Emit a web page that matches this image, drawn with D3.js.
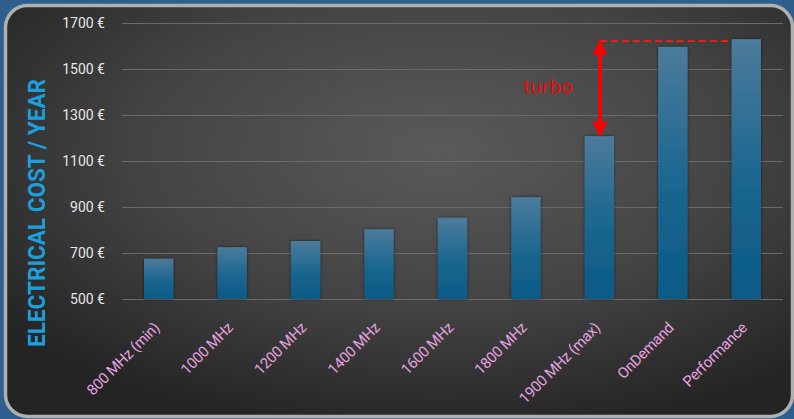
<!DOCTYPE html>
<html>
<head>
<meta charset="utf-8">
<script src="https://cdn.jsdelivr.net/npm/d3@7/dist/d3.min.js"></script>
<style>
  html, body { margin: 0; padding: 0; background: #2f5f8f; }
  svg { display: block; }
</style>
</head>
<body>
<svg id="chart" width="794" height="419"></svg>
<script>
// Annual electricity cost per CPU frequency / governor setting
const categories = ["800 MHz (min)", "1000 MHz", "1200 MHz", "1400 MHz", "1600 MHz",
                    "1800 MHz", "1900 MHz (max)", "OnDemand", "Performance"];
const costs = [675, 725, 752, 803, 853, 943, 1208, 1596, 1630];
const yTicks = [500, 700, 900, 1100, 1300, 1500, 1700];
const yTitle = "ELECTRICAL COST / YEAR";
const turboLabel = "turbo";
// turbo arrow spans from the max fixed-frequency bar to the Performance bar
const turboFrom = "1900 MHz (max)";
const turboTo = "Performance";

const W = 794, H = 419;
const svg = d3.select("#chart");
const defs = svg.append("defs");

// panel background: dark radial shading
const bg = defs.append("radialGradient").attr("id", "panelGrad")
  .attr("cx", "55%").attr("cy", "35%").attr("r", "70%");
bg.append("stop").attr("offset", "0%").attr("stop-color", "#5a5a5a");
bg.append("stop").attr("offset", "55%").attr("stop-color", "#434343");
bg.append("stop").attr("offset", "100%").attr("stop-color", "#242424");

const barGrad = defs.append("linearGradient").attr("id", "barGrad")
  .attr("x1", 0).attr("y1", 0).attr("x2", 0).attr("y2", 1);
barGrad.append("stop").attr("offset", "0%").attr("stop-color", "#4c7b9b");
barGrad.append("stop").attr("offset", "55%").attr("stop-color", "#1a6690");
barGrad.append("stop").attr("offset", "100%").attr("stop-color", "#0b5a86");

const shadow = defs.append("filter").attr("id", "barShadow")
  .attr("x", "-30%").attr("y", "-10%").attr("width", "160%").attr("height", "120%");
shadow.append("feDropShadow").attr("dx", 0).attr("dy", 0).attr("stdDeviation", 1.5)
  .attr("flood-color", "#000").attr("flood-opacity", 0.6);

const arrowHead = defs.append("marker").attr("id", "arrowHead")
  .attr("viewBox", "0 0 10 10").attr("refX", 9).attr("refY", 5)
  .attr("markerWidth", 4).attr("markerHeight", 4.2).attr("markerUnits", "strokeWidth")
  .attr("orient", "auto-start-reverse");
arrowHead.append("path").attr("d", "M0,0 L10,5 L0,10 Z").attr("fill", "#ff0000");

// framed panel
svg.append("rect").attr("x", 5.5).attr("y", 5.5).attr("width", 787).attr("height", 411)
  .attr("rx", 22).attr("fill", "url(#panelGrad)")
  .attr("stroke", "#b0b0b0").attr("stroke-width", 3.5);

const margin = { left: 122, right: 11, top: 23, bottom: 120 };
const x = d3.scaleBand().domain(categories).range([margin.left, W - margin.right])
  .paddingInner(0.6).paddingOuter(0.3);
const y = d3.scaleLinear().domain([500, 1700]).range([299, 23]);

// gridlines + y tick labels
const yAxis = d3.axisLeft(y).tickValues(yTicks)
  .tickSize(-(W - margin.right - margin.left))
  .tickFormat(d => d + " €").tickPadding(17);
const gy = svg.append("g").attr("transform", `translate(${margin.left},0)`).call(yAxis);
gy.select(".domain").remove();
gy.selectAll(".tick line").attr("stroke", "#6a6a6a").attr("stroke-width", 1);
gy.selectAll(".tick text").attr("fill", "#e6e6e6")
  .style("font-family", "Roboto, 'Open Sans', sans-serif").style("font-size", "14px")
  .attr("dy", "0.35em");

// bars
svg.append("g").selectAll("rect").data(categories).join("rect")
  .attr("x", d => x(d))
  .attr("y", (d, i) => y(costs[i]))
  .attr("width", x.bandwidth())
  .attr("height", (d, i) => y(500) - y(costs[i]))
  .attr("fill", "url(#barGrad)")
  .attr("filter", "url(#barShadow)");

// x labels, rotated so each ends just under its bar
const xAxis = d3.axisBottom(x).tickSize(0).tickPadding(0);
const gx = svg.append("g").attr("transform", "translate(0,299)").call(xAxis);
gx.select(".domain").remove();
gx.selectAll(".tick text")
  .attr("fill", "#e6a2e0")
  .style("font-family", "Roboto, 'Open Sans', sans-serif").style("font-size", "15px")
  .style("letter-spacing", "-0.3px")
  .attr("text-anchor", "end")
  .attr("x", 0).attr("y", 0).attr("dy", "0.35em")
  .attr("transform", "translate(-2,26) rotate(-45)");

// y title
svg.append("text")
  .attr("transform", "translate(45,213) rotate(-90)")
  .attr("text-anchor", "middle")
  .attr("fill", "#1c9fdc")
  .style("font-family", "Roboto, 'Liberation Sans', sans-serif")
  .style("font-size", "23px").style("font-weight", "bold")
  .attr("textLength", 268).attr("lengthAdjust", "spacingAndGlyphs")
  .text(yTitle);

// turbo annotation
const iFrom = categories.indexOf(turboFrom), iTo = categories.indexOf(turboTo);
const ax = x(turboFrom) + x.bandwidth() / 2 + 0.5;
const yTop = y(costs[iTo]) + 2;
const yBot = y(costs[iFrom]) - 1;
svg.append("line")
  .attr("x1", ax).attr("x2", x(turboTo))
  .attr("y1", yTop).attr("y2", yTop)
  .attr("stroke", "#ff1a1a").attr("stroke-width", 1.6).attr("stroke-dasharray", "7,4");
svg.append("line")
  .attr("x1", ax).attr("x2", ax).attr("y1", yBot).attr("y2", yTop)
  .attr("stroke", "#ff0000").attr("stroke-width", 3.8)
  .attr("marker-start", "url(#arrowHead)").attr("marker-end", "url(#arrowHead)");
svg.append("text")
  .attr("x", 548).attr("y", 93).attr("text-anchor", "middle")
  .attr("fill", "#ff0000")
  .style("font-family", "'Open Sans', sans-serif").style("font-size", "19px")
  .text(turboLabel);
</script>
</body>
</html>
